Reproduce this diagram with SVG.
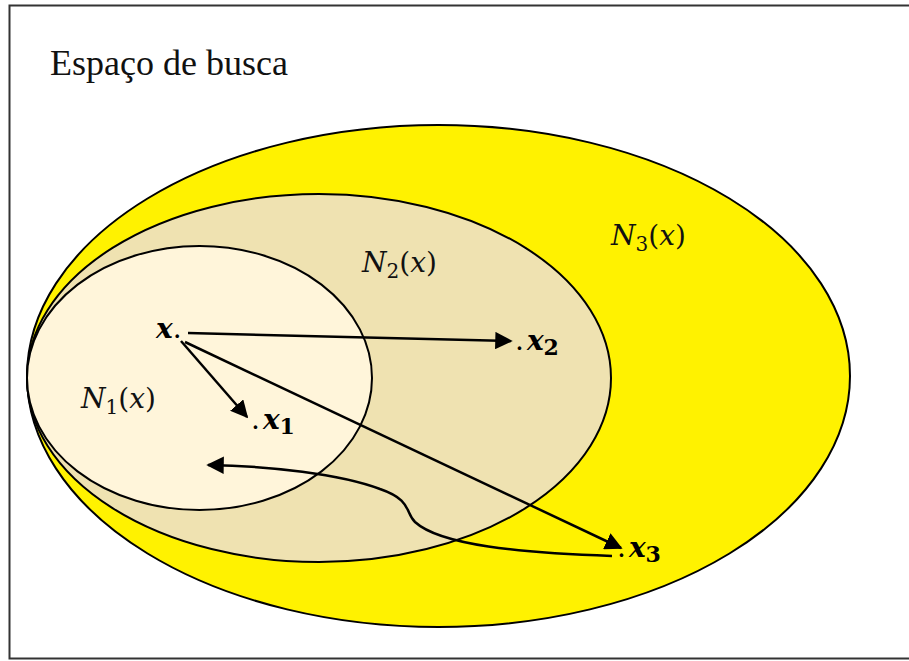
<svg xmlns="http://www.w3.org/2000/svg" width="909" height="661" viewBox="0 0 909 661">
<style>
.set{stroke:#000;stroke-width:2}
.lbl{font-family:"DejaVu Serif","Liberation Serif",serif;font-style:italic;font-size:28px;fill:#111}
.up{font-style:normal}
.pt{font-family:"DejaVu Serif","Liberation Serif",serif;font-style:italic;font-weight:bold;font-size:28px;fill:#000}
.con{fill:none;stroke:#000;stroke-width:2.5}
</style>
<defs>
<marker id="ah" viewBox="0 0 10 10" refX="9" refY="5" markerWidth="7" markerHeight="7" markerUnits="strokeWidth" orient="auto-start-reverse">
<path d="M0,0 L10,5 L0,10 z" fill="#000"/>
</marker>
</defs>
<rect x="0" y="0" width="909" height="661" fill="#fff"/>
<rect x="9.5" y="5.5" width="910" height="653" fill="none" stroke="#333" stroke-width="2"/>
<text x="50" y="75" font-family="Liberation Serif, serif" font-size="36" fill="#111">Espaço de busca</text>
<g id="N3">
<ellipse cx="438.5" cy="376" rx="411.5" ry="251" fill="#FFF200" class="set"/>
<text x="611" y="245" class="lbl">N<tspan font-size="20" dy="6" class="up">3</tspan><tspan dy="-6" class="up">(</tspan>x<tspan class="up">)</tspan></text>
</g>
<g id="N2">
<ellipse cx="319" cy="378" rx="292" ry="184" fill="#EFE2B1" class="set"/>
<text x="362" y="272" class="lbl">N<tspan font-size="20" dy="6" class="up">2</tspan><tspan dy="-6" class="up">(</tspan>x<tspan class="up">)</tspan></text>
</g>
<g id="N1">
<ellipse cx="199.5" cy="378" rx="172.5" ry="132" fill="#FFF5DA" class="set"/>
<text x="81" y="408" class="lbl">N<tspan font-size="20" dy="6" class="up">1</tspan><tspan dy="-6" class="up">(</tspan>x<tspan class="up">)</tspan></text>
</g>
<g id="x">
<text x="156" y="338" class="pt">x<tspan font-weight="normal" font-style="normal">.</tspan></text>
</g>
<g id="x1">
<text x="251" y="429" class="pt"><tspan font-weight="normal" font-style="normal">.</tspan><tspan dx="3">x</tspan><tspan font-size="22" dy="5" font-style="normal">1</tspan></text>
</g>
<g id="x2">
<text x="515" y="350" class="pt"><tspan font-weight="normal" font-style="normal">.</tspan><tspan dx="3">x</tspan><tspan font-size="22" dy="5" font-style="normal">2</tspan></text>
</g>
<g id="x3">
<text x="617" y="557" class="pt"><tspan font-weight="normal" font-style="normal">.</tspan><tspan dx="3">x</tspan><tspan font-size="22" dy="5" font-style="normal">3</tspan></text>
</g>
<g id="connectors">
<line x1="188" y1="333" x2="511" y2="341" class="con" marker-end="url(#ah)"/>
<line x1="181" y1="341" x2="247" y2="417" class="con" marker-end="url(#ah)"/>
<line x1="185" y1="342" x2="621" y2="548" class="con" marker-end="url(#ah)"/>
<path d="M612,556 C520,553 440,545 415,522 C405,512 412,500 380,489 C340,474 270,466 208,465" class="con" marker-end="url(#ah)"/>
</g>
</svg>
